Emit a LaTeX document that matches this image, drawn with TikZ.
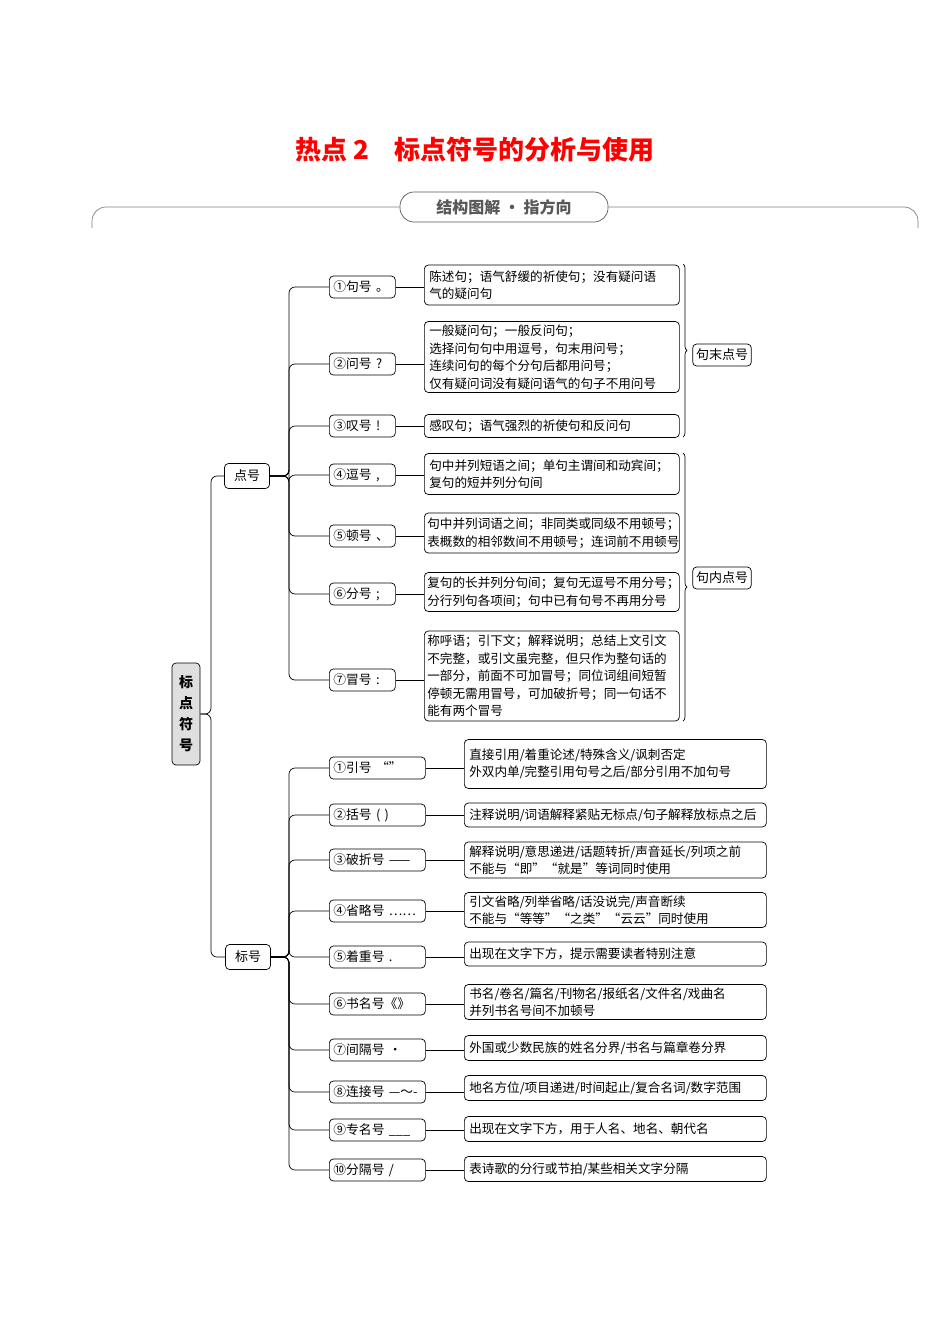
\documentclass[tikz,border=0pt]{standalone}
\usepackage{fontspec}
\setmainfont{Noto Sans CJK SC}
\usetikzlibrary{decorations.pathreplacing}

\tikzset{
  keybox/.style={draw, rounded corners=4pt, inner xsep=4pt, inner ysep=0pt, minimum height=22pt, anchor=west, font=\fontsize{12.8}{15}\selectfont},
  notebox/.style={draw, rounded corners=4pt, inner xsep=5pt, inner ysep=2pt, anchor=west, align=left, font=\fontsize{12.6}{17.5}\selectfont},
  groupbox/.style={draw, rounded corners=4pt, minimum width=45pt, minimum height=25pt, font=\fontsize{13}{15}\selectfont},
  link/.style={draw, line width=0.7pt, rounded corners=6pt},
}

\begin{document}
\begin{tikzpicture}[x=1pt, y=-1pt, line width=0.7pt]
  \useasboundingbox (0,0) rectangle (950,1344);

  % heading
  \node[text=red, font=\fontsize{26}{30}\selectfont\bfseries] (title) at (475,150) {热点 2\quad 标点符号的分析与使用};
  \node[draw, gray!70!black, rounded corners=14pt, minimum width=208pt, minimum height=30pt, text=gray!70!black, font=\fontsize{16}{18}\selectfont\bfseries] (band) at (504,207) {结构图解 · 指方向};
  \draw[gray, rounded corners=14pt] (92,228) |- (band.west);
  \draw[gray, rounded corners=14pt] (band.east) -| (918,228);

  % root
  \node[draw, fill=gray!25, rounded corners=4pt, minimum width=28pt, minimum height=102pt, align=center, font=\fontsize{14}{21}\selectfont\bfseries] (root) at (186,714) {标\\点\\符\\号};
  \node[groupbox] (dian) at (247,476) {点号};
  \node[groupbox] (biao) at (248,957) {标号};

  % 点号
  \node[keybox, minimum width=66pt, text width=58pt] (d1) at (329,287) {①句号 。};
  \node[keybox, minimum width=66pt, text width=58pt] (d2) at (329,364) {②问号 ?};
  \node[keybox, minimum width=66pt, text width=58pt] (d3) at (329,426) {③叹号 !};
  \node[keybox, minimum width=66pt, text width=58pt] (d4) at (329,475) {④逗号 ,};
  \node[keybox, minimum width=66pt, text width=58pt] (d5) at (329,536) {⑤顿号 、};
  \node[keybox, minimum width=66pt, text width=58pt] (d6) at (329,594) {⑥分号 ;};
  \node[keybox, minimum width=66pt, text width=58pt] (d7) at (329,680) {⑦冒号 :};

  \node[notebox, text width=245pt, minimum height=40pt] (e1) at (424,285) {陈述句；语气舒缓的祈使句；没有疑问语\\气的疑问句};
  \node[notebox, text width=245pt, minimum height=71pt] (e2) at (424,357) {一般疑问句；一般反问句；\\选择问句句中用逗号，句末用问号；\\连续问句的每个分句后都用问号；\\仅有疑问词没有疑问语气的句子不用问号};
  \node[notebox, text width=245pt, minimum height=23pt] (e3) at (424,426) {感叹句；语气强烈的祈使句和反问句};
  \node[notebox, text width=245pt, minimum height=41pt] (e4) at (424,474) {句中并列短语之间；单句主谓间和动宾间；\\复句的短并列分句间};
  \node[notebox, inner xsep=3pt, text width=249pt, minimum height=40pt] (e5) at (424,533) {句中并列词语之间；非同类或同级不用顿号；\\表概数的相邻数间不用顿号；连词前不用顿号};
  \node[notebox, inner xsep=3pt, text width=249pt, minimum height=39pt] (e6) at (424,592) {复句的长并列分句间；复句无逗号不用分号；\\分行列句各项间；句中已有句号不再用分号};
  \node[notebox, inner xsep=3pt, text width=249pt, minimum height=90pt] (e7) at (424,676) {称呼语；引下文；解释说明；总结上文引文\\不完整，或引文虽完整，但只作为整句话的\\一部分，前面不可加冒号；同位词组间短暂\\停顿无需用冒号，可加破折号；同一句话不\\能有两个冒号};

  \draw[decorate, decoration={brace, amplitude=4pt}] (683,264) -- (683,437) coordinate[midway] (b1);
  \draw[decorate, decoration={brace, amplitude=4pt}] (683,453) -- (683,721) coordinate[midway] (b2);
  \node[groupbox, minimum width=56pt, minimum height=22pt] (mo) at (722,355) {句末点号};
  \node[groupbox, minimum width=56pt, minimum height=22pt] (nei) at (722,578) {句内点号};

  % 标号
  \node[keybox, minimum width=96pt, text width=88pt] (f1) at (329,768) {①引号 “”};
  \node[keybox, minimum width=96pt, text width=88pt] (f2) at (329,815) {②括号 ( )};
  \node[keybox, minimum width=96pt, text width=88pt] (f3) at (329,860) {③破折号 ——};
  \node[keybox, minimum width=96pt, text width=88pt] (f4) at (329,911) {④省略号 ……};
  \node[keybox, minimum width=96pt, text width=88pt] (f5) at (329,957) {⑤着重号 .};
  \node[keybox, minimum width=96pt, text width=88pt] (f6) at (329,1004) {⑥书名号《》};
  \node[keybox, minimum width=96pt, text width=88pt] (f7) at (329,1050) {⑦间隔号 ·};
  \node[keybox, minimum width=96pt, text width=88pt] (f8) at (329,1092) {⑧连接号 —～-};
  \node[keybox, minimum width=96pt, text width=88pt] (f9) at (329,1130) {⑨专名号 \_\_\_};
  \node[keybox, minimum width=96pt, text width=88pt] (f10) at (329,1170) {⑩分隔号 /};

  \node[notebox, text width=292pt, minimum height=49pt] (g1) at (464,764) {直接引用/着重论述/特殊含义/讽刺否定\\外双内单/完整引用句号之后/部分引用不加句号};
  \node[notebox, text width=292pt, minimum height=24pt] (g2) at (464,815) {注释说明/词语解释紧贴无标点/句子解释放标点之后};
  \node[notebox, text width=292pt, minimum height=36pt] (g3) at (464,860) {解释说明/意思递进/话题转折/声音延长/列项之前\\不能与“即”“就是”等词同时使用};
  \node[notebox, text width=292pt, minimum height=35pt] (g4) at (464,910) {引文省略/列举省略/话没说完/声音断续\\不能与“等等”“之类”“云云”同时使用};
  \node[notebox, text width=292pt, minimum height=24pt] (g5) at (464,954) {出现在文字下方，提示需要读者特别注意};
  \node[notebox, text width=292pt, minimum height=35pt] (g6) at (464,1002) {书名/卷名/篇名/刊物名/报纸名/文件名/戏曲名\\并列书名号间不加顿号};
  \node[notebox, text width=292pt, minimum height=25pt] (g7) at (464,1048) {外国或少数民族的姓名分界/书名与篇章卷分界};
  \node[notebox, text width=292pt, minimum height=25pt] (g8) at (464,1088) {地名方位/项目递进/时间起止/复合名词/数字范围};
  \node[notebox, text width=292pt, minimum height=25pt] (g9) at (464,1129) {出现在文字下方，用于人名、地名、朝代名};
  \node[notebox, text width=292pt, minimum height=25pt] (g10) at (464,1169) {表诗歌的分行或节拍/某些相关文字分隔};

  % connectors
  \draw[link] (root.east) -- (211,714) |- (dian.west);
  \draw[link] (root.east) -- (211,714) |- (biao.west);
  \foreach \i in {1,...,7} {
    \draw[link] (dian.east) -- (289,476) |- (d\i.west);
    \draw (d\i.east) -- (d\i.east -| e\i.west);
  }
  \foreach \i in {1,...,10} {
    \draw[link] (biao.east) -- (289,957) |- (f\i.west);
    \draw (f\i.east) -- (f\i.east -| g\i.west);
  }
\end{tikzpicture}
\end{document}
